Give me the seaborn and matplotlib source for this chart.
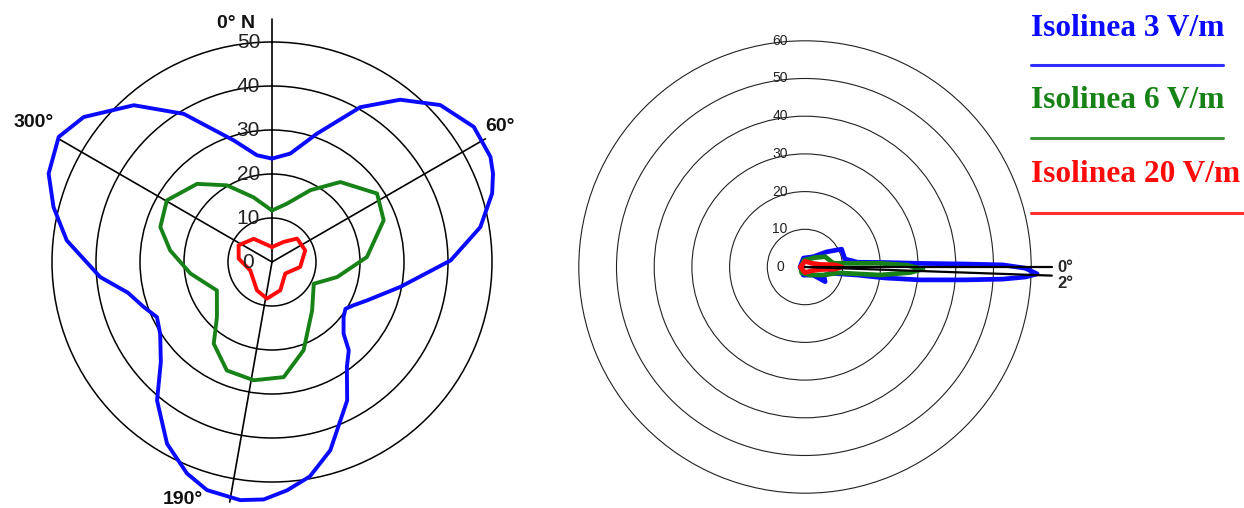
import matplotlib
matplotlib.use("Agg")
import matplotlib.pyplot as plt
from matplotlib.lines import Line2D
import numpy as np
import seaborn as sns

# ---- left diagram: horizontal pattern (deg clockwise from north, radius) ----
blue_h_ang = [0, 9.6, 19.3, 29.7, 38.3, 47, 56.2, 64.3, 68.2, 72.7, 80.5, 89.5,
              101, 112, 117.9, 122.5, 127.5, 135, 139, 144.5, 151.5, 162.8, 170,
              176.2, 182, 187.6, 195.9, 201.9, 210, 219.7, 228, 237.3, 244.4,
              250.7, 258, 265, 276, 284.1, 291.6, 300.4, 307.6, 318.6, 329.2,
              342.5, 352, 360]
blue_h_r = [23.5, 25, 30.9, 40.5, 47, 52.3, 55.2, 55.1, 54.1, 52.4, 48, 40.6,
            29.7, 23.3, 21, 19.8, 20.5, 23, 26.6, 29.3, 35.8, 44.8, 49.5,
            52, 54, 54.6, 53.9, 51.8, 47.7, 40.9, 34, 30.2, 29,
            30.9, 33.5, 39.2, 46.9, 51.2, 54.6, 56.2, 54, 47.5, 39.2,
            29, 24.5, 23.5]

green_h_ang = [0, 14.4, 28.1, 40.5, 56.9, 69.5, 87, 103, 117.5, 140.4, 160.3, 174.2,
               188.8, 202.6, 215.5, 225, 242.7, 261.9, 276.5, 287.4, 300.4, 316.2,
               329.6, 344, 360]
green_h_r = [11.7, 13.7, 18.5, 23.9, 28.5, 27.1, 21.6, 15.2, 10.7, 14.3, 21.3, 26.3,
             27.2, 26.7, 22.8, 17.7, 14.1, 18.7, 23.3, 26.6, 27.7, 24.6,
             20.2, 15.3, 11.7]

red_h_ang = [0, 30.3, 47, 70.7, 100, 131, 163.6, 187.8, 207.9, 249, 275.7, 296.6,
             321.8, 360]
red_h_r = [3.4, 5.3, 7.8, 8, 6.5, 4, 6.7, 8.4, 7.3, 5.3, 7.6, 8.5, 6.7, 3.4]

h_rings = [10, 20, 30, 40, 50]
h_directions = [0, 60, 190, 300]
h_dir_len = [55.2, 56, 55.4, 56]
h_dir_labels = ["0° N", "60°", "190°", "300°"]

# ---- right diagram: vertical pattern (deg below horizontal, radius) ----
blue_v_ang = [-180, -100, -51, -35, -26, -11.3, -7, -5.2, -3.2, -1.8, -1.07, -0.6,
              0.3, 1.7, 2.6, 3.5, 4.6, 6.4, 7.8, 8.7, 14, 25, 36, 45, 102, 180]
blue_v_r = [1.3, 2.4, 3.5, 7, 10.8, 10.8, 12.9, 13.9, 21.3, 30.5, 42.4, 52.5,
            58.4, 61.6, 58.5, 52.6, 42.6, 30.7, 21.4, 14, 6.8, 5.5, 6.6, 3, 2.2, 1.3]

green_v_ang = [-180, -100, -45, -27, -7.4, -2.8, -1, 1, 3, 6.1, 10, 23.6, 58, 120, 180]
green_v_r = [1.0, 1.8, 3.5, 6, 7.6, 20, 27, 31.3, 28, 20, 9, 5.3, 2.5, 1.8, 1.0]

red_v_ang = [-180, -90, -30, -10, -4, 0, 4, 10, 30, 90, 180]
red_v_r = [1.2, 1.5, 2, 4, 8, 9.8, 8, 4, 2, 1.5, 1.2]

v_rings = [10, 20, 30, 40, 50, 60]
v_directions = [0, 2]
v_dir_labels = ["0°", "2°"]

legend_labels = ["Isolinea 3 V/m", "Isolinea 6 V/m", "Isolinea 20 V/m"]
colors = ["#0a0aff", "#178217", "#ff0a0a"]

W, H = 1244, 508
sns.set_theme(style="white")
plt.rcParams["font.family"] = ["Liberation Sans", "DejaVu Sans"]

fig = plt.figure(figsize=(W / 100, H / 100), dpi=100)


def polar_axes(cx, cy, px_per_unit, rmax):
    side = 2 * rmax * px_per_unit
    rect = [(cx - side / 2) / W, (H - cy - side / 2) / H, side / W, side / H]
    ax = fig.add_axes(rect, projection="polar")
    ax.set_facecolor("none")
    ax.set_ylim(0, rmax)
    ax.set_xticks([])
    ax.spines["polar"].set_visible(False)
    return ax


# left
axl = polar_axes(272, 262, 4.4, 56.5)
axl.set_theta_zero_location("N")
axl.set_theta_direction(-1)
axl.set_yticks(h_rings)
axl.set_yticklabels([])
axl.grid(True, axis="y", color="black", lw=1.1)

for a, ln in zip(h_directions, h_dir_len):
    axl.plot([np.deg2rad(a)] * 2, [0, ln], color="black", lw=1.2, clip_on=False)

for ang, r, c in [(blue_h_ang, blue_h_r, colors[0]),
                  (green_h_ang, green_h_r, colors[1]),
                  (red_h_ang, red_h_r, colors[2])]:
    sns.lineplot(x=np.deg2rad(ang), y=r, ax=axl, sort=False, estimator=None,
                 color=c, lw=2.8, clip_on=False)

for r in [0] + h_rings:
    axl.annotate(str(r), xy=(0, r), xytext=(-17, 0), textcoords="offset points",
                 ha="center", va="center", fontsize=15, color="#222222")

lbl_pos = {"0° N": ((-12, -3), "right"), "60°": ((0, 9), "left"),
           "300°": ((-3.6, 12), "right"), "190°": ((-19, 1.5), "right")}
for a, ln, t in zip(h_directions, h_dir_len, h_dir_labels):
    off, ha = lbl_pos[t]
    axl.annotate(t, xy=(np.deg2rad(a), ln), xytext=off, textcoords="offset points",
                 ha=ha, va="center", fontsize=14, fontweight="bold", color="#111111")

# right
axr = polar_axes(805, 267, 3.77, 66)
axr.set_theta_zero_location("E")
axr.set_theta_direction(-1)
axr.set_yticks(v_rings)
axr.set_yticklabels([])
axr.grid(True, axis="y", color="#222222", lw=0.8)

for ang, r, c in [(blue_v_ang, blue_v_r, colors[0]),
                  (green_v_ang, green_v_r, colors[1]),
                  (red_v_ang, red_v_r, colors[2])]:
    sns.lineplot(x=np.deg2rad(ang), y=r, ax=axr, sort=False, estimator=None,
                 color=c, lw=3.4)

for a in v_directions:
    axr.plot([np.deg2rad(a)] * 2, [0, 65.5], color="black", lw=1.6, clip_on=False)

v_lbl_off = [(4, 0), (4, -6)]
for a, t, off in zip(v_directions, v_dir_labels, v_lbl_off):
    axr.annotate(t, xy=(np.deg2rad(a), 65.5), xytext=off, textcoords="offset points",
                 ha="left", va="center", fontsize=12, fontweight="bold")

for r in [0] + v_rings:
    axr.annotate(str(r), xy=(np.deg2rad(270), r), xytext=(-18, 0),
                 textcoords="offset points", ha="center", va="center",
                 fontsize=10, color="#222222")

# legend drawn as coloured titles with a rule under each
text_y = [28, 101, 175]
rule_y = [65, 138, 213]
rule_end = [1223, 1223, 1244]
for t, c, ty, ry, re in zip(legend_labels, colors, text_y, rule_y, rule_end):
    fig.text(1031 / W, 1 - ty / H, t, color=c, fontsize=22.6, fontweight="bold",
             family=["Liberation Serif", "DejaVu Serif"], ha="left", va="center")
    fig.add_artist(Line2D([1031 / W, re / W], [1 - ry / H, 1 - ry / H],
                          transform=fig.transFigure, color=c, lw=2.2, alpha=0.85))

fig.savefig("out.png", dpi=100)
